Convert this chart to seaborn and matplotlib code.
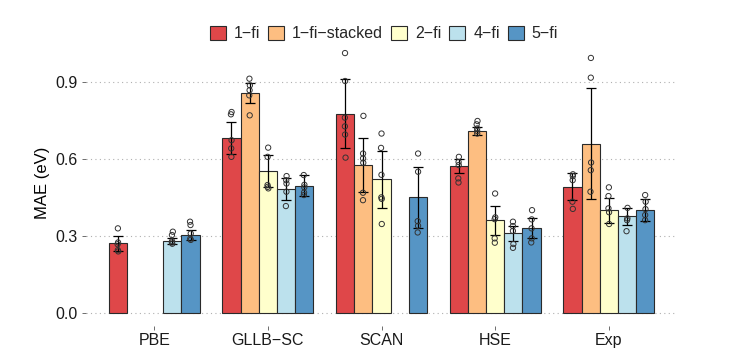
import numpy as np
import pandas as pd
import seaborn as sns
import matplotlib.pyplot as plt
from matplotlib.patches import Patch

# --- data ---
methods = ["PBE", "GLLB\u2212SC", "SCAN", "HSE", "Exp"]
fits = ["1\u2212fi", "1\u2212fi\u2212stacked", "2\u2212fi", "4\u2212fi", "5\u2212fi"]
colors = ["#DF4749", "#FDBE81", "#FFFFCC", "#BCE1ED", "#5695C5"]

# mean MAE per method (rows) and fit (columns); nan = not available
mae_pbe = [0.271, np.nan, np.nan, 0.280, 0.304]
mae_gllb = [0.683, 0.860, 0.554, 0.483, 0.496]
mae_scan = [0.778, 0.577, 0.521, np.nan, 0.452]
mae_hse = [0.573, 0.709, 0.362, 0.310, 0.332]
mae_exp = [0.492, 0.661, 0.401, 0.378, 0.401]

# standard deviation (error bars)
sd_pbe = [0.030, np.nan, np.nan, 0.012, 0.021]
sd_gllb = [0.062, 0.039, 0.062, 0.044, 0.041]
sd_scan = [0.133, 0.105, 0.112, np.nan, 0.119]
sd_hse = [0.028, 0.016, 0.057, 0.030, 0.039]
sd_exp = [0.053, 0.217, 0.049, 0.033, 0.044]

# individual runs (open circles)
pts_pbe = [[0.330, 0.275, 0.268, 0.245, 0.240], [], [],
           [0.317, 0.304, 0.280, 0.275, 0.270],
           [0.356, 0.343, 0.310, 0.290, 0.285]]
pts_gllb = [[0.784, 0.775, 0.674, 0.642, 0.609],
            [0.914, 0.888, 0.869, 0.849, 0.771],
            [0.645, 0.609, 0.499, 0.492, 0.486],
            [0.534, 0.518, 0.505, 0.473, 0.417],
            [0.538, 0.500, 0.490, 0.470, 0.460]]
pts_scan = [[1.014, 0.905, 0.762, 0.728, 0.696, 0.606],
            [0.769, 0.622, 0.603, 0.586, 0.469, 0.440],
            [0.700, 0.644, 0.539, 0.451, 0.445, 0.347],
            [],
            [0.622, 0.551, 0.358, 0.340, 0.314]]
pts_hse = [[0.609, 0.589, 0.577, 0.525, 0.509],
           [0.749, 0.736, 0.720, 0.710, 0.700],
           [0.466, 0.373, 0.366, 0.291, 0.274],
           [0.356, 0.339, 0.320, 0.269, 0.254],
           [0.401, 0.365, 0.330, 0.291, 0.275]]
pts_exp = [[0.541, 0.534, 0.518, 0.434, 0.406],
           [0.995, 0.918, 0.587, 0.557, 0.473],
           [0.490, 0.456, 0.408, 0.393, 0.347],
           [0.410, 0.369, 0.362, 0.319],
           [0.460, 0.434, 0.405, 0.382, 0.362]]

mae_all = [mae_pbe, mae_gllb, mae_scan, mae_hse, mae_exp]
sd_all = [sd_pbe, sd_gllb, sd_scan, sd_hse, sd_exp]
pts_all = [pts_pbe, pts_gllb, pts_scan, pts_hse, pts_exp]

bars = pd.DataFrame([
    {"method": m, "fit": f, "mae": mae_all[i][j], "sd": sd_all[i][j]}
    for i, m in enumerate(methods) for j, f in enumerate(fits)
    if not np.isnan(mae_all[i][j])
])
points = pd.DataFrame([
    {"method": m, "fit": f, "mae": v}
    for i, m in enumerate(methods) for j, f in enumerate(fits)
    for v in pts_all[i][j]
])

# --- figure ---
sns.set_theme(style="white")
plt.rcParams["font.family"] = ["Liberation Sans", "DejaVu Sans"]
palette = dict(zip(fits, colors))

fig = plt.figure(figsize=(7.42, 3.54), dpi=100)
ax = fig.add_axes([86 / 742, 28 / 354, 591 / 742, 286 / 354])

sns.barplot(data=bars, x="method", y="mae", hue="fit", order=methods,
            hue_order=fits, palette=palette, errorbar=None, width=0.8,
            edgecolor="#2a2a2a", linewidth=0.8, saturation=1, ax=ax, zorder=2)

# error bars at the dodged bar centres
step = 0.8 / len(fits)
for _, r in bars.iterrows():
    xpos = methods.index(r["method"]) + (fits.index(r["fit"]) - 2) * step
    ax.errorbar(xpos, r["mae"], yerr=r["sd"], fmt="none", ecolor="black",
                elinewidth=0.9, capsize=3.6, capthick=0.9, zorder=4)

np.random.seed(3)
n_before = len(ax.collections)
sns.stripplot(data=points, x="method", y="mae", hue="fit", order=methods,
              hue_order=fits, dodge=True, jitter=0.025, size=3.8,
              palette=palette, ax=ax, zorder=5, legend=False)
for coll in ax.collections[n_before:]:
    coll.set_facecolor("none")
    coll.set_edgecolor("#333333")
    coll.set_linewidth(0.7)

if ax.get_legend() is not None:
    ax.get_legend().remove()

ax.set_xlim(-0.6, 4.6)
ax.set_ylim(-0.051, 1.065)
ax.set_yticks([0.0, 0.3, 0.6, 0.9])
ax.set_yticklabels(["0.0", "0.3", "0.6", "0.9"])
ax.set_xlabel("")
ax.set_ylabel("MAE (eV)", fontsize=12, color="black", labelpad=4)
ax.tick_params(axis="both", labelsize=11.5, labelcolor="#1a1a1a",
               length=3, width=0.6, color="#555555", pad=3)
ax.tick_params(axis="x", pad=2)
ax.tick_params(left=True, bottom=True)
for s in ax.spines.values():
    s.set_visible(False)
ax.yaxis.grid(True, linestyle=(0, (1, 3)), color="#B0B0B0", linewidth=0.8)
ax.xaxis.grid(False)
ax.set_axisbelow(True)

handles = [Patch(facecolor=c, edgecolor="#2a2a2a", linewidth=0.8) for c in colors]
fig.legend(handles, fits, loc="center", bbox_to_anchor=(384 / 742, 1 - 33.5 / 354),
           ncol=5, frameon=False, fontsize=11.5, handlelength=1.0,
           handleheight=1.0, handletextpad=0.5, columnspacing=0.5)

fig.savefig("out.png", dpi=100)
